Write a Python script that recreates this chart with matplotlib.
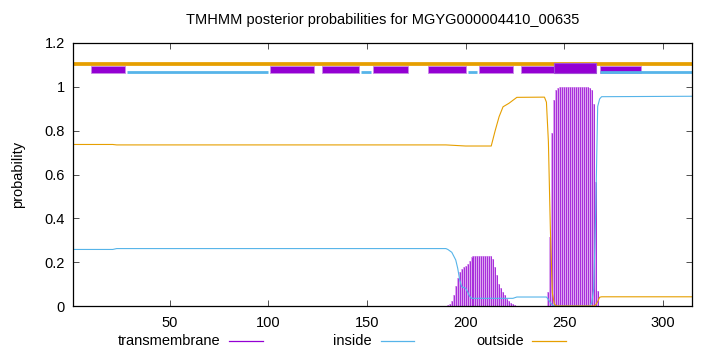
import matplotlib
matplotlib.use("Agg")
import matplotlib.pyplot as plt
from matplotlib.patches import Rectangle
from matplotlib.lines import Line2D

plt.rcParams['font.family'] = ['Liberation Sans', 'DejaVu Sans']

TITLE = "TMHMM posterior probabilities for MGYG000004410_00635"
SEQ_LEN = 315

# transmembrane posterior (impulses), residue -> value (zero elsewhere)
tm_res = list(range(191, 227)) + list(range(242, 268))
tm_val = [0.005, 0.01, 0.025, 0.05, 0.09, 0.13, 0.155, 0.17, 0.178, 0.181,
          0.19, 0.205, 0.225, 0.228, 0.228, 0.228, 0.228, 0.228, 0.228, 0.228,
          0.228, 0.228, 0.228, 0.215, 0.18, 0.14, 0.10, 0.08, 0.062, 0.048,
          0.034, 0.023, 0.014, 0.008, 0.004, 0.002,
          0.065, 0.316, 0.788, 0.94, 0.985, 0.996, 0.998, 0.999, 1.0, 1.0,
          1.0, 1.0, 1.0, 1.0, 1.0, 1.0, 1.0, 1.0, 1.0, 1.0,
          0.998, 0.995, 0.985, 0.92, 0.567, 0.07]

# inside posterior (line)
in_res = [1, 21, 23, 190, 191, 193, 195, 196, 197, 198, 200, 201, 202, 203,
          224, 226, 241, 242, 243, 244, 245, 263, 264, 265, 266, 267, 268, 269, 315]
in_val = [0.258, 0.258, 0.262, 0.262, 0.258, 0.245, 0.21, 0.172, 0.119, 0.088,
          0.081, 0.065, 0.045, 0.035, 0.035, 0.041, 0.041, 0.03, 0.015, 0.005,
          0.0, 0.0, 0.015, 0.08, 0.43, 0.91, 0.945, 0.955, 0.957]

# outside posterior (line)
out_res = [1, 21, 23, 190, 200, 213, 215, 217, 219, 222, 226, 240, 241, 242,
           243, 244, 245, 246, 265, 266, 267, 268, 269, 315]
out_val = [0.737, 0.737, 0.735, 0.735, 0.730, 0.730, 0.80, 0.864, 0.909, 0.925,
           0.952, 0.953, 0.93, 0.75, 0.35, 0.06, 0.01, 0.0, 0.0, 0.005, 0.02,
           0.04, 0.042, 0.042]

# predicted topology segments (top bar)
tm_segments = [(10, 27), (101, 123), (127, 146), (153, 171), (181, 200),
               (207, 224), (228, 246), (268, 289)]
tm_big_segment = (245, 266)
inside_segments = [(28, 100), (147, 152), (201, 206), (268, 315)]
outside_segments = [(1, 315)]

C_TM = "#9400D3"
C_TM_LIGHT = "#dba6ef"
C_IN = "#56B4E9"
C_OUT = "#E69F00"

fig = plt.figure(figsize=(7.2, 3.52), dpi=100)
ax = fig.add_axes([73.3 / 720, 1 - 306 / 352, (692.3 - 73.3) / 720, (306 - 43) / 352])

# impulses: light halo plus thin dark core (mimics gnuplot's antialiased impulses)
ax.vlines(tm_res, 0, tm_val, colors=C_TM_LIGHT, linewidth=1.45, zorder=3)
ax.vlines(tm_res, 0, tm_val, colors=C_TM, linewidth=0.6, alpha=0.85, zorder=3)
ax.plot(in_res, in_val, color=C_IN, linewidth=0.8, zorder=4)
ax.plot(out_res, out_val, color=C_OUT, linewidth=0.8, zorder=4)

for s, e in outside_segments:
    ax.plot([s, e], [1.105, 1.105], color=C_OUT, linewidth=2.7,
            solid_capstyle='butt', zorder=5, clip_on=False)
for s, e in tm_segments:
    ax.add_patch(Rectangle((s, 1.063), e - s, 0.032, facecolor=C_TM,
                           edgecolor="#c98ae6", linewidth=0.6, zorder=6))
s, e = tm_big_segment
ax.add_patch(Rectangle((s, 1.063), e - s, 0.046, facecolor=C_TM,
                       edgecolor="#a24fd6", linewidth=0.8, zorder=7))
for s, e in inside_segments:
    ax.plot([s, e], [1.067, 1.067], color=C_IN, linewidth=2.0,
            solid_capstyle='butt', zorder=8)

ax.set_xlim(1, SEQ_LEN)
ax.set_ylim(0, 1.2)
ax.set_xticks([50, 100, 150, 200, 250, 300])
ax.set_yticks([0, 0.2, 0.4, 0.6, 0.8, 1.0, 1.2])
ax.set_yticklabels(["0", "0.2", "0.4", "0.6", "0.8", "1", "1.2"])
ax.tick_params(direction='in', length=4, width=0.6, labelsize=10.5,
               top=True, right=True, colors="#333333", labelcolor="black")
ax.tick_params(axis='x', pad=7)
ax.tick_params(axis='y', pad=6)
for sp in ax.spines.values():
    sp.set_linewidth(0.9)
    sp.set_color("black")
    sp.set_zorder(10)

ax.set_ylabel("probability", fontsize=10.5, labelpad=14)
fig.text(382.7 / 720, 1 - 20 / 352, TITLE, ha='center', va='center', fontsize=10.5)

# legend at bottom
leg_items = [("transmembrane", C_TM, 220, 229, 263),
             ("inside", C_IN, 372, 381, 414),
             ("outside", C_OUT, 524, 532, 566)]
ly = 1 - 341 / 352
for label, col, tx, x0, x1 in leg_items:
    fig.text(tx / 720, ly, label, ha='right', va='center', fontsize=10.5)
    fig.add_artist(Line2D([x0 / 720, x1 / 720], [ly, ly], color=col, linewidth=0.9))

fig.savefig("out.png", dpi=100)
